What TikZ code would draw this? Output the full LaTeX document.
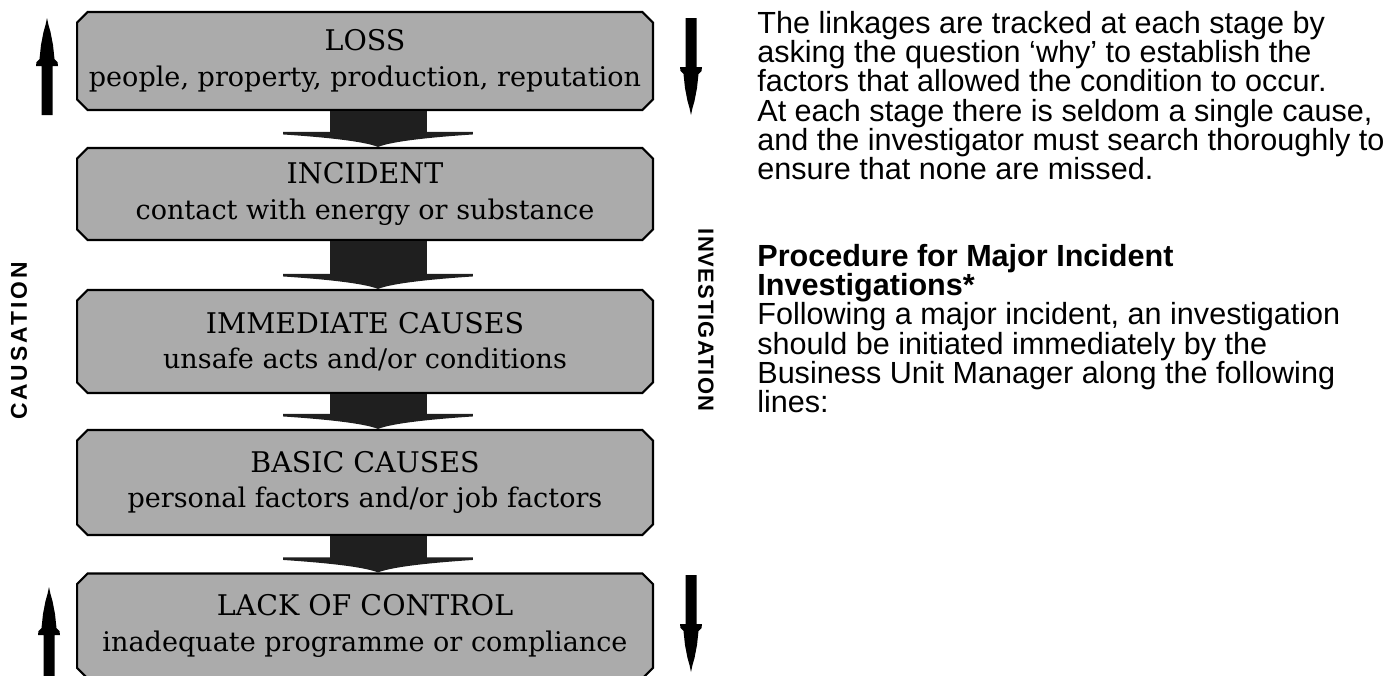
\documentclass[tikz,border=0pt]{standalone}
\usepackage{fontspec}
\setmainfont{DejaVu Serif}
\newfontfamily\helv{Liberation Sans}
\newfontfamily\spaced[LetterSpace=13]{Liberation Sans Bold}
\newfontfamily\spacedtight[LetterSpace=5]{Liberation Sans Bold}
\usetikzlibrary{shapes.misc}

\tikzset{
  stage/.style={chamfered rectangle, chamfered rectangle xsep=3pt,
    chamfered rectangle ysep=3pt, draw, line width=1.2pt, fill=black!33,
    minimum width=11.52cm, align=center, inner sep=0pt,
    font=\fontsize{15.4}{20}\selectfont},
  title/.style={font=\fontsize{16.2}{20}\selectfont},
  linkfill/.style={fill=black!88},
  spear/.pic={
    \fill[black] (-5.5,0) -- (-5.5,-49) -- (-11,-49) -- (-10.5,-53)
      -- (-7.5,-56) -- (-6,-70) -- (-3.5,-83) -- (-1.5,-90)
      -- (0,-97) -- (1.5,-90) -- (3.5,-83) -- (6,-70) -- (7.5,-56)
      -- (10.5,-53) -- (11,-49) -- (5.5,-49) -- (5.5,0) -- cycle;
  },
}

% freccia larga tra due riquadri
\newcommand{\linkarrow}[2]{
  \fill[linkfill] ([xshift=-0.7cm]#1.south) -- ([xshift=1.24cm]#1.south)
    -- ([xshift=1.24cm,yshift=0.3cm]#2.north)
    -- ([xshift=2.16cm,yshift=0.3cm]#2.north)
    -- ([xshift=2.16cm,yshift=0.25cm]#2.north)
    .. controls ([xshift=1.4cm,yshift=0.2cm]#2.north) and ([xshift=0.55cm,yshift=0.12cm]#2.north) .. ([xshift=0.26cm]#2.north)
    .. controls ([xshift=-0.03cm,yshift=0.12cm]#2.north) and ([xshift=-0.88cm,yshift=0.2cm]#2.north) .. ([xshift=-1.64cm,yshift=0.25cm]#2.north)
    -- ([xshift=-1.64cm,yshift=0.3cm]#2.north)
    -- ([xshift=-0.7cm,yshift=0.3cm]#2.north) -- cycle;
}

\begin{document}
\begin{tikzpicture}[x=0.02cm, y=-0.02cm]
    \useasboundingbox (0,0) rectangle (1386,676);

    % Riquadri della catena
    \node[stage, minimum height=1.96cm] (loss) at (365,61)
      {{\fontsize{16.2}{20}\selectfont LOSS}\\people, property, production, reputation};
    \node[stage, minimum height=1.84cm] (incident) at (365,194)
      {{\fontsize{16.2}{20}\selectfont INCIDENT}\\contact with energy or substance};
    \node[stage, minimum height=2.06cm] (immediate) at (365,341.5)
      {{\fontsize{16.2}{20}\selectfont IMMEDIATE CAUSES}\\unsafe acts and/or conditions};
    \node[stage, minimum height=2.1cm] (basic) at (365,482.5)
      {{\fontsize{16.2}{20}\selectfont BASIC CAUSES}\\personal factors and/or job factors};
    \node[stage, minimum height=2.1cm] (lack) at (365,626)
      {{\fontsize{16.2}{20}\selectfont LACK OF CONTROL}\\inadequate programme or compliance};

    % Frecce larghe
    \linkarrow{loss}{incident}
    \linkarrow{incident}{immediate}
    \linkarrow{immediate}{basic}
    \linkarrow{basic}{lack}

    % Frecce laterali
    \pic at (47,115) {spear};
    \pic at (49,684) {spear};
    \pic[rotate=180] at (691,18) {spear};
    \pic[rotate=180] at (691,575) {spear};

    % Scritte verticali
    \node[rotate=90, font=\spaced\fontsize{13}{15}\selectfont] (causation) at (19,341) {CAUSATION};
    \node[rotate=-90, font=\spacedtight\fontsize{12.5}{15}\selectfont] (investigation) at (706,320) {INVESTIGATION};

    % Testo a destra
    \node[anchor=north west, align=left, inner sep=0pt,
      font=\helv\fontsize{17.4}{16.6}\selectfont] (para) at (757,11)
      {The linkages are tracked at each stage by\\
       asking the question ‘why’ to establish the\\
       factors that allowed the condition to occur.\\
       At each stage there is seldom a single cause,\\
       and the investigator must search thoroughly to\\
       ensure that none are missed.};
    \node[anchor=north west, align=left, inner sep=0pt,
      font=\helv\fontsize{17.4}{16.6}\selectfont] (proc) at (757,244)
      {\textbf{Procedure for Major Incident}\\
       \textbf{Investigations*}\\
       Following a major incident, an investigation\\
       should be initiated immediately by the\\
       Business Unit Manager along the following\\
       lines:};
\end{tikzpicture}
\end{document}
